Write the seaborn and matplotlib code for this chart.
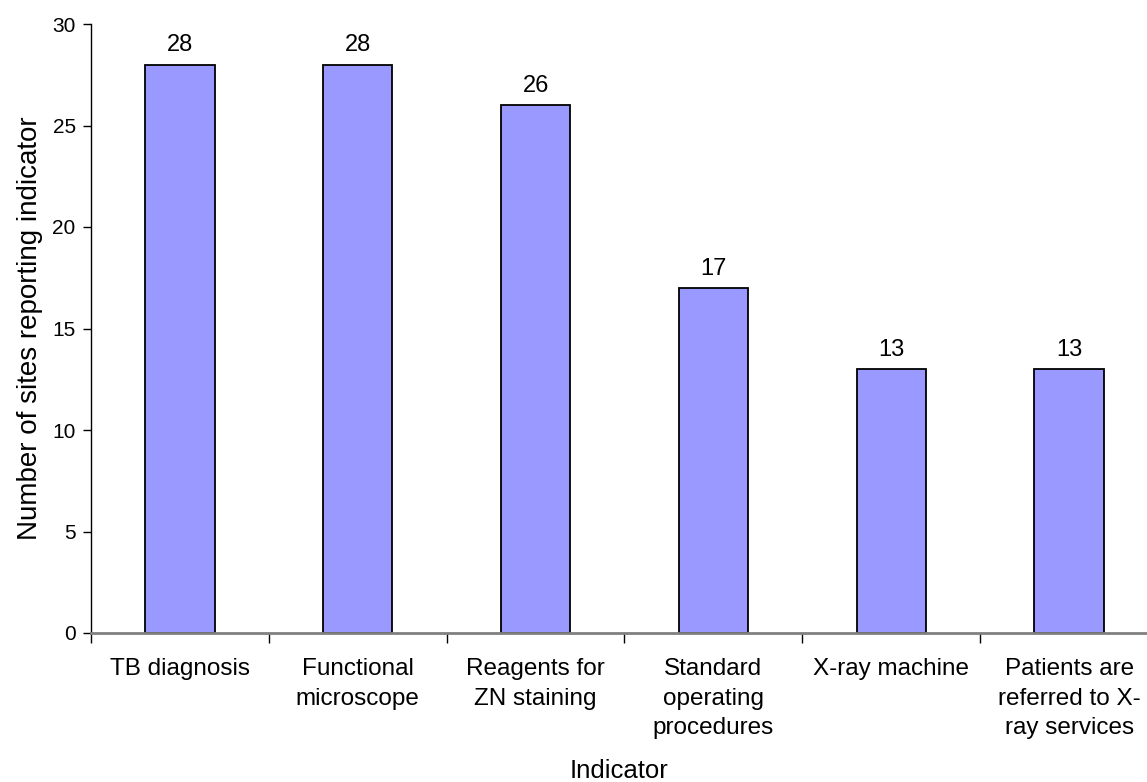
import matplotlib
matplotlib.use("Agg")
import matplotlib.pyplot as plt
import seaborn as sns
import pandas as pd

categories = ["TB diagnosis", "Functional\nmicroscope", "Reagents for\nZN staining",
              "Standard\noperating\nprocedures", "X-ray machine",
              "Patients are\nreferred to X-\nray services"]
values = [28, 28, 26, 17, 13, 13]
yticks = [0, 5, 10, 15, 20, 25, 30]

sns.set_theme(style="white")
plt.rcParams['font.family'] = ['Liberation Sans', 'DejaVu Sans']
plt.rcParams['text.color'] = 'black'
plt.rcParams['axes.labelcolor'] = 'black'
plt.rcParams['xtick.color'] = 'black'
plt.rcParams['ytick.color'] = 'black'

df = pd.DataFrame({"Indicator": categories, "Sites": values})

fig = plt.figure(figsize=(11.47, 7.82), dpi=100)
ax = fig.add_axes([91/1147, 1 - 633/782, 1 - 91/1147, (633 - 24)/782])

sns.barplot(data=df, x="Indicator", y="Sites", ax=ax, color="#9999FF",
            edgecolor="black", linewidth=1.3, width=0.39, saturation=1)

for i, v in enumerate(values):
    ax.annotate(str(v), (i, v), xytext=(0, 6), textcoords="offset points",
                ha="center", va="bottom", fontsize=17, color="black")

ax.set_ylim(0, 30)
ax.set_xlim(-0.5, 5.5 - 11/178)
ax.set_yticks(yticks)
ax.set_yticklabels([str(t) for t in yticks], fontsize=15)
ax.set_xticks([i - 0.5 for i in range(6)])
ax.set_xticklabels([])
ax.set_xticks(range(6), minor=True)
ax.set_xticklabels(categories, minor=True, fontsize=17.5, linespacing=1.45, va="top")
ax.tick_params(axis="x", which="minor", length=0, pad=18)
ax.tick_params(axis="x", which="major", length=7, width=1, color="black", direction="out", bottom=True)
ax.tick_params(axis="y", length=6, width=1, color="black", direction="out", left=True, pad=5)

for s in ["top", "right"]:
    ax.spines[s].set_visible(False)
ax.spines["left"].set_color("black")
ax.spines["left"].set_linewidth(1)
ax.spines["bottom"].set_color("#808080")
ax.spines["bottom"].set_linewidth(2)

ax.set_ylabel("Number of sites reporting indicator", fontsize=20, labelpad=7)
ax.set_xlabel("Indicator", fontsize=18.5, labelpad=14)

fig.savefig("out.png", dpi=100)
